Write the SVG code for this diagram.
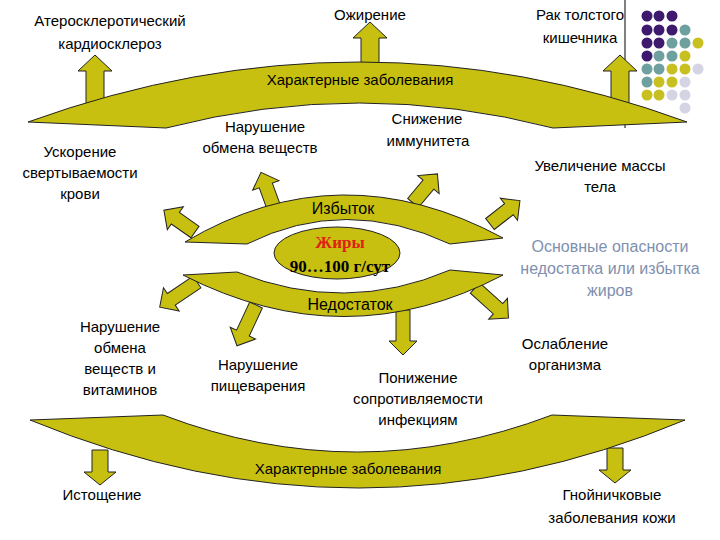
<svg xmlns="http://www.w3.org/2000/svg" width="720" height="540" viewBox="0 0 720 540">
<style>
.s{fill:#c8c010;stroke:#222;stroke-width:1}
text{font-family:"Liberation Sans",Arial,sans-serif;font-size:15px;text-anchor:middle;fill:#000}
.b{font-family:"Liberation Serif","Times New Roman",serif;font-weight:bold;font-size:17px}
.g{fill:#7f8fb0;font-size:16px}
.P{fill:#3d1a6e}.T{fill:#6fa0a0}.Y{fill:#c8c020}.L{fill:#d4d4e4}
</style>
<defs>
<polygon id="a1" class="s" points="-9,0 -9,-34 -17,-34 0,-50 17,-34 9,-34 9,0"/>
<polygon id="a3" class="s" points="-7,0 -7,-24 -14,-24 0,-38 14,-24 7,-24 7,0"/>
<polygon id="a4" class="s" points="-7,0 -7,-31 -14,-31 0,-45 14,-31 7,-31 7,0"/>
<polygon id="a5" class="s" points="-8,0 -8,-22 -16,-22 0,-35 16,-22 8,-22 8,0"/>
</defs>
<g id="dots">
<line x1="625" y1="0" x2="625" y2="128" stroke="#000" stroke-width="1"/>
<circle class="P" cx="647" cy="16" r="5.5"/><circle class="P" cx="659" cy="16" r="5.5"/><circle class="P" cx="672" cy="16" r="5.5"/>
<circle class="P" cx="647" cy="30" r="5.5"/><circle class="P" cx="659" cy="30" r="5.5"/><circle class="P" cx="672" cy="30" r="5.5"/><circle class="T" cx="685" cy="30" r="5.5"/>
<circle class="P" cx="647" cy="43" r="5.5"/><circle class="P" cx="659" cy="43" r="5.5"/><circle class="T" cx="672" cy="43" r="5.5"/><circle class="T" cx="685" cy="43" r="5.5"/><circle class="Y" cx="698" cy="43" r="5.5"/>
<circle class="P" cx="647" cy="56" r="5.5"/><circle class="T" cx="659" cy="56" r="5.5"/><circle class="T" cx="672" cy="56" r="5.5"/><circle class="Y" cx="685" cy="56" r="5.5"/>
<circle class="T" cx="647" cy="69" r="5.5"/><circle class="T" cx="659" cy="69" r="5.5"/><circle class="Y" cx="672" cy="69" r="5.5"/><circle class="Y" cx="685" cy="69" r="5.5"/><circle class="L" cx="698" cy="69" r="5.5"/>
<circle class="T" cx="647" cy="82" r="5.5"/><circle class="Y" cx="659" cy="82" r="5.5"/><circle class="Y" cx="672" cy="82" r="5.5"/><circle class="L" cx="685" cy="82" r="5.5"/>
<circle class="Y" cx="647" cy="95" r="5.5"/><circle class="Y" cx="659" cy="95" r="5.5"/><circle class="L" cx="672" cy="95" r="5.5"/><circle class="L" cx="685" cy="95" r="5.5"/>
<circle class="L" cx="685" cy="108" r="5.5"/>
</g>
<g id="connectors">
<use href="#a1" transform="translate(95,105)"/>
<use href="#a1" transform="translate(370,72)"/>
<use href="#a1" transform="translate(620,105)"/>
<use href="#a5" transform="translate(100,450) rotate(180)"/>
<use href="#a5" transform="translate(615,448) rotate(180)"/>
<use href="#a3" transform="translate(195,232) rotate(-55)"/>
<use href="#a3" transform="translate(274,208) rotate(-20)"/>
<use href="#a3" transform="translate(413,203) rotate(40)"/>
<use href="#a3" transform="translate(490,224) rotate(52)"/>
<use href="#a4" transform="translate(197,282) rotate(-124)"/>
<use href="#a4" transform="translate(256,305) rotate(-155)"/>
<use href="#a4" transform="translate(403,310) rotate(180)"/>
<use href="#a4" transform="translate(475,288) rotate(132)"/>
</g>
<g id="top-arc">
<path class="s" d="M28,122 Q360,2 687,122 L553,128 Q360,78 166,128 Z"/>
<text x="360" y="85">Характерные заболевания</text>
</g>
<g id="bottom-arc">
<path class="s" d="M30,420 Q360,556 685,420 L552,415 Q357,489 163,415 Z"/>
<text x="348" y="474">Характерные заболевания</text>
</g>
<g id="excess-arc">
<path class="s" d="M185,242 Q340,150 503,238 L450,244 Q345,195 247,244 Z"/>
<text x="343" y="214" style="font-size:16px">Избыток</text>
</g>
<g id="deficit-arc">
<path class="s" d="M183,275 Q345,358 503,275 L450,270 Q345,315 237,272 Z"/>
<text x="350" y="310" style="font-size:16px">Недостаток</text>
</g>
<g id="center">
<ellipse class="s" cx="337" cy="253" rx="63" ry="26"/>
<text class="b" x="340" y="248" style="fill:#e02010">Жиры</text>
<text class="b" x="340" y="272">90…100 г/сут</text>
</g>
<g id="labels">
<text x="110" y="26">Атеросклеротический</text><text x="110" y="49">кардиосклероз</text>
<text x="370" y="20">Ожирение</text>
<text x="580" y="20">Рак толстого</text><text x="580" y="43">кишечника</text>
<text x="80" y="157">Ускорение</text><text x="80" y="178">свертываемости</text><text x="80" y="199">крови</text>
<text x="265" y="132">Нарушение</text><text x="260" y="153">обмена веществ</text>
<text x="427" y="124">Снижение</text><text x="428" y="146">иммунитета</text>
<text x="600" y="171">Увеличение массы</text><text x="600" y="192">тела</text>
<text class="g" x="610" y="252">Основные опасности</text><text class="g" x="610" y="274">недостатка или избытка</text><text class="g" x="610" y="296">жиров</text>
<text x="120" y="332">Нарушение</text><text x="120" y="353">обмена</text><text x="120" y="374">веществ и</text><text x="120" y="395">витаминов</text>
<text x="258" y="370">Нарушение</text><text x="258" y="391">пищеварения</text>
<text x="418" y="383">Понижение</text><text x="418" y="404">сопротивляемости</text><text x="418" y="425">инфекциям</text>
<text x="565" y="349">Ослабление</text><text x="565" y="370">организма</text>
<text x="102" y="500">Истощение</text>
<text x="612" y="500">Гнойничковые</text><text x="612" y="523">заболевания кожи</text>
</g>
</svg>
